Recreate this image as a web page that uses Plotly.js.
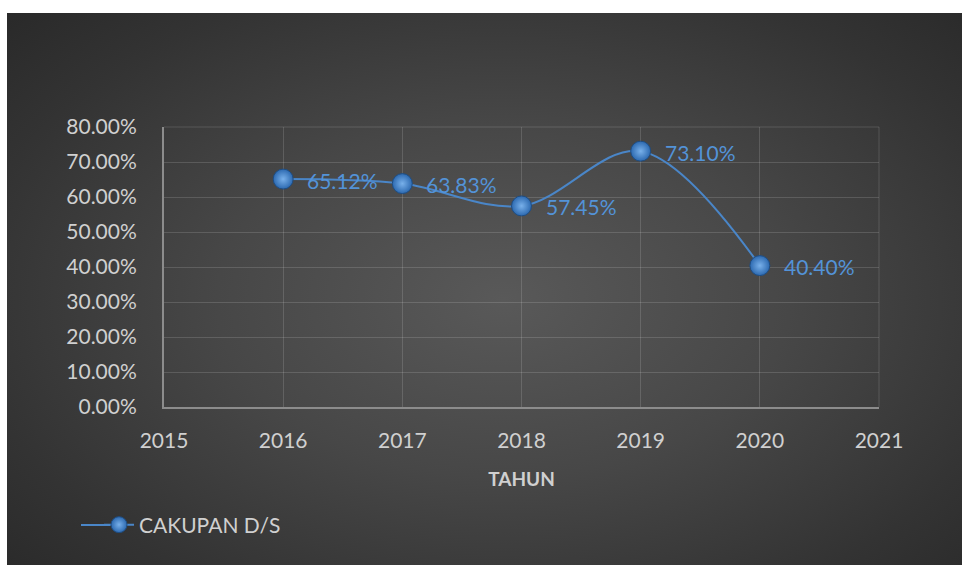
<!DOCTYPE html>
<html>
<head>
<meta charset="utf-8">
<script src="https://cdn.plot.ly/plotly-3.0.1.min.js"></script>
<style>
  html, body { margin: 0; padding: 0; background: #ffffff; }
  #bg { position: absolute; left: 7px; top: 13px; width: 955px; height: 552px;
        background: radial-gradient(ellipse 75% 80% at 52% 52%, #595959 0%, #474747 40%, #333333 75%, #272727 100%); }
  #chart { position: absolute; left: 0; top: 0; width: 962px; height: 565px; }
</style>
</head>
<body>
<div id="bg"></div>
<div id="chart"></div>
<script>
const years = [2016, 2017, 2018, 2019, 2020];
const cakupan = [0.6512, 0.6383, 0.5745, 0.7310, 0.4040];
const seriesName = 'CAKUPAN D/S';
const xTitle = 'TAHUN';

const FONT = 'Lato, "Open Sans", sans-serif';
const labelColor = '#5393d8';
const tickColor = '#d0d0d0';
const gridColor = 'rgba(255,255,255,0.14)';

const trace = {
  x: years,
  y: cakupan,
  name: seriesName,
  type: 'scatter',
  mode: 'lines+markers',
  line: { color: '#4a86c8', width: 2, shape: 'spline', smoothing: 1 },
  marker: { size: 20, color: '#2c69b0', line: { color: '#1f4d82', width: 1 },
            gradient: { type: 'radial', color: '#78b0ea' } },
  hoverinfo: 'x+y'
};

const annotations = years.map((yr, i) => ({
  x: yr, y: cakupan[i], xref: 'x', yref: 'y',
  text: (cakupan[i] * 100).toFixed(2) + '%',
  showarrow: false, xanchor: 'left', yanchor: 'middle',
  xshift: 22, yshift: -1,
  font: { family: FONT, size: 21, color: labelColor }
}));

// frame lines on the top and right of the plot area, plus the longer legend line
const shapes = [
  { type: 'line', xref: 'paper', yref: 'paper', x0: 0, x1: 1, y0: 1, y1: 1,
    line: { color: gridColor, width: 1 } },
  { type: 'line', xref: 'paper', yref: 'paper', x0: 1, x1: 1, y0: 0, y1: 1,
    line: { color: gridColor, width: 1 } },
  { type: 'line', xref: 'paper', yref: 'paper',
    x0: (81 - 164) / 715, x1: (110 - 164) / 715,
    y0: -(525 - 407) / 280, y1: -(525 - 407) / 280,
    line: { color: '#4a86c8', width: 2 } }
];

const layout = {
  width: 962, height: 565,
  paper_bgcolor: 'rgba(0,0,0,0)',
  plot_bgcolor: 'rgba(0,0,0,0)',
  margin: { l: 164, r: 83, t: 127, b: 158 },
  font: { family: FONT, size: 21, color: tickColor },
  showlegend: true,
  legend: {
    orientation: 'h', xref: 'container', yref: 'container',
    x: 99 / 962, y: 1 - 525 / 565, xanchor: 'left', yanchor: 'middle',
    font: { family: FONT, size: 21, color: tickColor },
    bgcolor: 'rgba(0,0,0,0)'
  },
  xaxis: {
    range: [2015, 2021], dtick: 1, tick0: 2015,
    showgrid: true, gridcolor: gridColor, gridwidth: 1,
    showline: true, linecolor: '#8c8c8c', linewidth: 2,
    zeroline: false, ticks: '', ticklabelstandoff: 14,
    tickfont: { family: FONT, size: 21, color: tickColor },
    title: { text: xTitle, standoff: 21, font: { family: FONT, size: 19, color: tickColor, weight: 'bold' } },
    fixedrange: true
  },
  yaxis: {
    range: [0, 0.8], dtick: 0.1, tickformat: '.2%',
    showgrid: true, gridcolor: gridColor, gridwidth: 1,
    showline: true, linecolor: '#8c8c8c', linewidth: 2,
    zeroline: false, ticks: '', ticklabelstandoff: 21,
    tickfont: { family: FONT, size: 21, color: tickColor },
    fixedrange: true
  },
  shapes: shapes,
  annotations: annotations
};

Plotly.newPlot('chart', [trace], layout, { displayModeBar: false, staticPlot: true });
</script>
</body>
</html>
